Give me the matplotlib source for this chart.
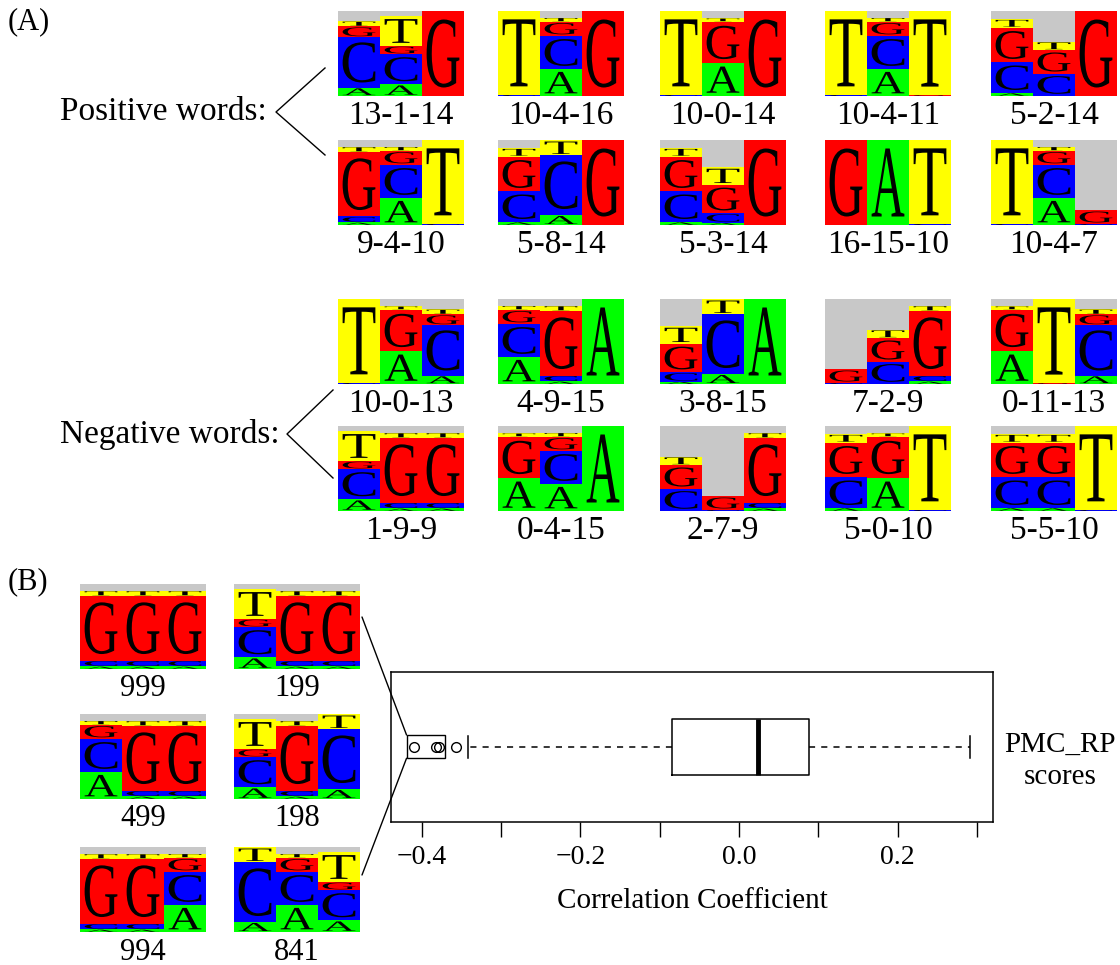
import matplotlib
matplotlib.use("Agg")
import matplotlib.pyplot as plt
from matplotlib.textpath import TextPath
from matplotlib.patches import PathPatch, Rectangle, ConnectionPatch
from matplotlib.font_manager import FontProperties
from matplotlib.transforms import Affine2D
from matplotlib.ticker import FixedLocator

SERIF = "Liberation Serif"
plt.rcParams["font.family"] = [SERIF, "DejaVu Serif"]

W, H = 1120, 965

# ---------------------------------------------------------------- data
BASES = ["A", "C", "G", "T"]
BASE_COLORS = {"A": "#00FF00", "C": "#0000FF", "G": "#FF0000", "T": "#FFFF00"}
UNASSIGNED_COLOR = "#C8C8C8"

# Base composition (A, C, G, T) of each position cluster; the remainder is unassigned
cluster_profiles = {
    0: (0.385, 0.000, 0.490, 0.040),
    1: (0.138, 0.354, 0.098, 0.350),
    2: (0.000, 0.260, 0.280, 0.100),
    3: (0.028, 0.110, 0.335, 0.210),
    4: (0.315, 0.394, 0.165, 0.047),
    5: (0.035, 0.360, 0.410, 0.100),
    7: (0.000, 0.014, 0.160, 0.000),
    8: (0.118, 0.700, 0.000, 0.182),
    9: (0.030, 0.070, 0.760, 0.060),
    10: (0.000, 0.015, 0.000, 0.985),
    11: (0.000, 0.000, 0.012, 0.988),
    13: (0.100, 0.590, 0.130, 0.060),
    14: (0.000, 0.000, 1.000, 0.000),
    15: (1.000, 0.000, 0.000, 0.000),
    16: (0.000, 0.000, 1.000, 0.000),
}

positive_words = [
    ["13-1-14", "10-4-16", "10-0-14", "10-4-11", "5-2-14"],
    ["9-4-10", "5-8-14", "5-3-14", "16-15-10", "10-4-7"],
]
negative_words = [
    ["10-0-13", "4-9-15", "3-8-15", "7-2-9", "0-11-13"],
    ["1-9-9", "0-4-15", "2-7-9", "5-0-10", "5-5-10"],
]
lowest_words = [
    ["999", "199"],
    ["499", "198"],
    ["994", "841"],
]

# PMC_RP score distribution (correlation coefficients)
score_q1 = -0.084
score_median = 0.024
score_q3 = 0.088
score_whisker_low = -0.342
score_whisker_high = 0.291
score_outliers = [-0.410, -0.382, -0.378, -0.357]
inset_range = (-0.419, -0.370)

tick_values = [-0.4, -0.3, -0.2, -0.1, 0.0, 0.1, 0.2, 0.3]
tick_labels = ["\u22120.4", "", "\u22120.2", "", "0.0", "", "0.2", ""]

# ---------------------------------------------------------------- helpers
_glyphs = {}


def glyph(letter):
    if letter not in _glyphs:
        tp = TextPath((0, 0), letter, size=1, prop=FontProperties(family=SERIF))
        _glyphs[letter] = (tp, tp.get_extents())
    return _glyphs[letter]


def draw_letter(ax, letter, x0, y0, w, h, fx=0.78, fy=0.80):
    tp, ext = glyph(letter)
    tr = (Affine2D()
          .translate(-(ext.x0 + ext.width / 2), -(ext.y0 + ext.height / 2))
          .scale(w * fx / ext.width, h * fy / ext.height)
          .translate(x0 + w / 2, y0 + h / 2))
    ax.add_patch(PathPatch(tr.transform_path(tp), fc="black", ec="none", lw=0))


def draw_logo(fig, left, top, clusters, width=126, height=85):
    ax = fig.add_axes([left / W, 1 - (top + height) / H, width / W, height / H])
    ax.set_xlim(0, len(clusters))
    ax.set_ylim(0, 1)
    ax.axis("off")
    for i, cid in enumerate(clusters):
        fracs = cluster_profiles[cid]
        bottom = 0.0
        for base, f in zip(BASES, fracs):
            if f <= 0:
                continue
            ax.bar(i, f, bottom=bottom, width=1, align="edge",
                   color=BASE_COLORS[base], linewidth=0)
            draw_letter(ax, base, i, bottom, 1, f)
            bottom += f
        if bottom < 1:
            ax.bar(i, 1 - bottom, bottom=bottom, width=1, align="edge",
                   color=UNASSIGNED_COLOR, linewidth=0)
    return ax


# ---------------------------------------------------------------- figure
fig = plt.figure(figsize=(W / 100, H / 100), dpi=100)
canvas = fig.add_axes([0, 0, 1, 1])
canvas.set_xlim(0, W)
canvas.set_ylim(H, 0)
canvas.axis("off")

word_lefts = [338, 498, 660, 825, 991]
word_rows_top = [11, 140, 299, 426]
logo_w, logo_h = 126, 85

for rows, tops in ((positive_words, word_rows_top[:2]), (negative_words, word_rows_top[2:])):
    for words, top in zip(rows, tops):
        for word, left in zip(words, word_lefts):
            draw_logo(fig, left, top, [int(c) for c in word.split("-")])
            canvas.text(left + logo_w / 2, top + logo_h + 20, word, fontsize=24,
                        ha="center", va="center")

lowest_lefts = [80, 234]
lowest_tops = [584, 714, 847]
for words, top in zip(lowest_words, lowest_tops):
    for word, left in zip(words, lowest_lefts):
        draw_logo(fig, left, top, [int(c) for c in word])
        canvas.text(left + logo_w / 2, top + logo_h + 20, word, fontsize=22,
                    ha="center", va="center")

# panel letters and group labels
canvas.text(8, 22, "(A)", fontsize=22, ha="left", va="center")
canvas.text(8, 582, "(B)", fontsize=22, ha="left", va="center")
canvas.text(60, 112, "Positive words:", fontsize=24, ha="left", va="center")
canvas.text(60, 434, "Negative words:", fontsize=24, ha="left", va="center")
canvas.plot([325, 276, 325], [68, 112, 155], color="black", lw=1)
canvas.plot([333, 287, 333], [390, 434, 478], color="black", lw=1)

# ---------------------------------------------------------------- box plot
bx = fig.add_axes([391 / W, 1 - 822 / H, 602 / W, 150 / H])
stats = [{
    "q1": score_q1, "med": score_median, "q3": score_q3,
    "whislo": score_whisker_low, "whishi": score_whisker_high,
    "fliers": score_outliers,
}]
bx.bxp(stats, positions=[1], widths=0.37, orientation="horizontal",
       capwidths=0.15, showfliers=True,
       boxprops=dict(color="black", lw=1.1),
       whiskerprops=dict(color="black", lw=1.1, linestyle=(0, (4, 4))),
       capprops=dict(color="black", lw=1.1),
       medianprops=dict(color="black", lw=3.5, solid_capstyle="butt"),
       flierprops=dict(marker="o", markerfacecolor="none", markeredgecolor="black",
                       markersize=7, markeredgewidth=1.0))
bx.set_xlim(-0.4386, 0.3203)
bx.set_ylim(0.5, 1.5)
bx.set_yticks([])
bx.xaxis.set_major_locator(FixedLocator(tick_values))
bx.set_xticklabels(tick_labels)
bx.tick_params(axis="x", direction="out", length=10.5, width=1.0, labelsize=20, pad=6)
for s in bx.spines.values():
    s.set_linewidth(1.1)
bx.set_xlabel("Correlation Coefficient", fontsize=21, labelpad=13)

lo, hi = inset_range
bx.add_patch(Rectangle((lo, 0.925), hi - lo, 0.155, fill=False, ec="black", lw=1.0))

canvas.text(1060, 745, "PMC_RP", fontsize=21, ha="center", va="center")
canvas.text(1060, 777, "scores", fontsize=21, ha="center", va="center")

for (px, py), vy in (((362, 617), 1.08), ((362, 875), 0.925)):
    fig.add_artist(ConnectionPatch(xyA=(px, py), coordsA=canvas.transData,
                                   xyB=(lo, vy), coordsB=bx.transData,
                                   color="black", lw=1.0))

fig.savefig("out.png", dpi=100)
